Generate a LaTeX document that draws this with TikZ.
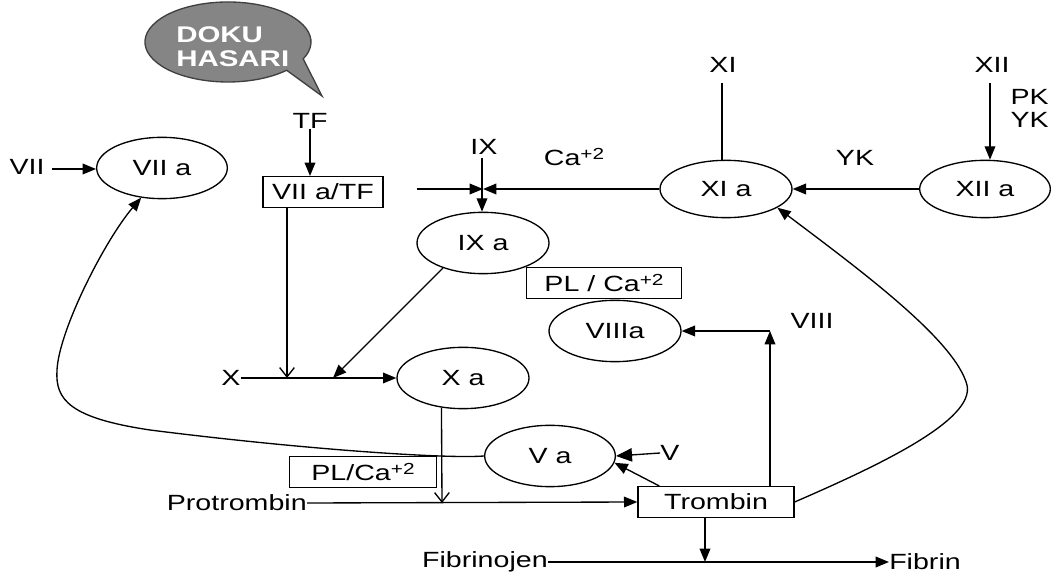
\documentclass[tikz,border=0pt]{standalone}
\usepackage{fontspec}
\setmainfont{Liberation Sans}[FakeStretch=1.3]
\usetikzlibrary{arrows.meta,shapes.geometric}
\newcommand\supx[1]{\raisebox{0.5ex}{\fontsize{12}{12}\selectfont #1}}
\tikzset{
  every node/.style={font=\fontsize{16.5}{19}\selectfont, inner sep=0pt},
  ell/.style={ellipse, draw, line width=1pt, minimum width=99pt, minimum height=46pt},
  boxn/.style={rectangle, draw, line width=1pt, minimum height=23pt},
  fa/.style={-{Triangle[length=10pt,width=8pt]}},
  fab/.style={-{Triangle[length=12pt,width=10pt]}},
  oa/.style={-{Straight Barb[length=7pt,width=11pt]}},
  ln/.style={line width=1pt}
}
\begin{document}
\begin{tikzpicture}[x=0.75pt,y=-0.75pt]
\useasboundingbox (0,0) rectangle (1051,580);
% speech bubble
\draw[line width=1pt, draw=black!75, fill=black!48]
  (303.2,58.9) arc[start angle=25, end angle=-315, x radius=83, y radius=40]
  -- (322,96) -- cycle;
\node[anchor=west, text=white, font=\fontsize{17}{19}\selectfont\bfseries] (doku) at (176,35) {DOKU};
\node[anchor=west, text=white, font=\fontsize{17}{19}\selectfont\bfseries] (hasari) at (176,59) {HASARI};

% ellipses
\node[ell, minimum width=98pt] (VIIa) at (162,168) {VII a};
\node[ell] (IXa) at (483,243) {IX a};
\node[ell, minimum height=43pt] (XIa) at (726,189) {XI a};
\node[ell, minimum height=43pt, minimum width=98pt] (XIIa) at (985,189) {XII a};
\node[ell] (VIIIa) at (615,331) {VIIIa};
\node[ell] (Xa) at (463,378) {X a};
\node[ell, minimum width=98pt] (Va) at (550,456) {V a};

% boxes
\node[boxn, minimum width=90pt] (VIIaTF) at (323,192) {VII a/TF};
\node[boxn, minimum width=116pt] (PLr) at (604,283) {PL / Ca\supx{+2}};
\node[boxn, minimum width=110pt] (PLl) at (363,472) {PL/Ca\supx{+2}};
\node[boxn, minimum width=117pt] (Trombin) at (716,502) {Trombin};

% labels
\node (TF) at (310,121) {TF};
\node (VII) at (27,167) {VII};
\node (IX) at (484,147) {IX};
\node (Ca) at (574,157) {Ca\supx{+2}};
\node (XI) at (723,65) {XI};
\node (XII) at (992,65) {XII};
\node[anchor=east] (PK) at (1049,97) {PK};
\node[anchor=east] (YKr) at (1049,120) {YK};
\node (YK) at (855,158) {YK};
\node (X) at (231,378) {X};
\node (VIII) at (812,321) {VIII};
\node (V) at (670,453) {V};
\node[anchor=east] (Prot) at (307,503) {Protrombin};
\node[anchor=east] (Fibrinojen) at (548,562) {Fibrinojen};
\node[anchor=west] (Fibrin) at (889,562) {Fibrin};

% coordinates
\coordinate (hl) at (417,189);
\coordinate (jn) at (483,189);
\coordinate (xj1) at (287,378);
\coordinate (xj2) at (333,378);
\coordinate (xv) at (442,503);
\coordinate (c8) at (770,331);
\coordinate (fj) at (705,562);

% connectors
\draw[ln, fa] (VII.east) ++(7,2) coordinate (vii1) -- (VIIa.west |- vii1);
\draw[ln, fa] (TF.south) -- (VIIaTF.north -| TF);
\draw[ln, oa] (VIIaTF.south -| xj1) -- (xj1);
\draw[ln, fa] (X.east) -- (Xa.west);
\draw[ln, fa] (IXa.212) -- (xj2);
\draw[ln, fa] (IX.south) ++(-2,3) coordinate (ix1) -- (ix1 |- IXa.north);
\draw[ln, fa] (hl) -- (jn);
\draw[ln, fa] (XIa.west) -- (jn);
\draw[ln] (XI.south) ++(-1,10) coordinate (xi1) -- (xi1 |- XIa.north);
\draw[ln, fa] (XII.south) ++(-2,10) coordinate (xii1) -- (xii1 |- XIIa.north);
\draw[ln, fa] (XIIa.west) -- (XIa.east);
\draw[ln, fa] (Trombin.north -| c8) -- (c8);
\draw[ln, fa] (c8) -- (VIIIa.east);
\draw[ln, oa] (Xa.234) -- (xv);
\draw[ln, fa] (Prot.east) -- (Trombin.west);
\draw[ln, fab] (V.west) -- (Va.east);
\draw[ln, fa] ([xshift=16.5pt]Trombin.north west) -- (Va.-6);
\draw[ln, fa] (Trombin.south -| fj) -- (fj);
\draw[ln, fa] (Fibrinojen.east) -- (Fibrin.west);
% feedback curves
\draw[ln, fa] (Va.west) .. controls (445,459) and (300,449) .. (150,430)
  .. controls (70,418) and (55,400) .. (57,370)
  .. controls (59,330) and (105,240) .. (VIIa.235);
\draw[ln, fa] (Trombin.east) .. controls (880,465) and (975,420) .. (967,385)
  .. controls (955,340) and (860,270) .. (XIa.-20);
\end{tikzpicture}
\end{document}
